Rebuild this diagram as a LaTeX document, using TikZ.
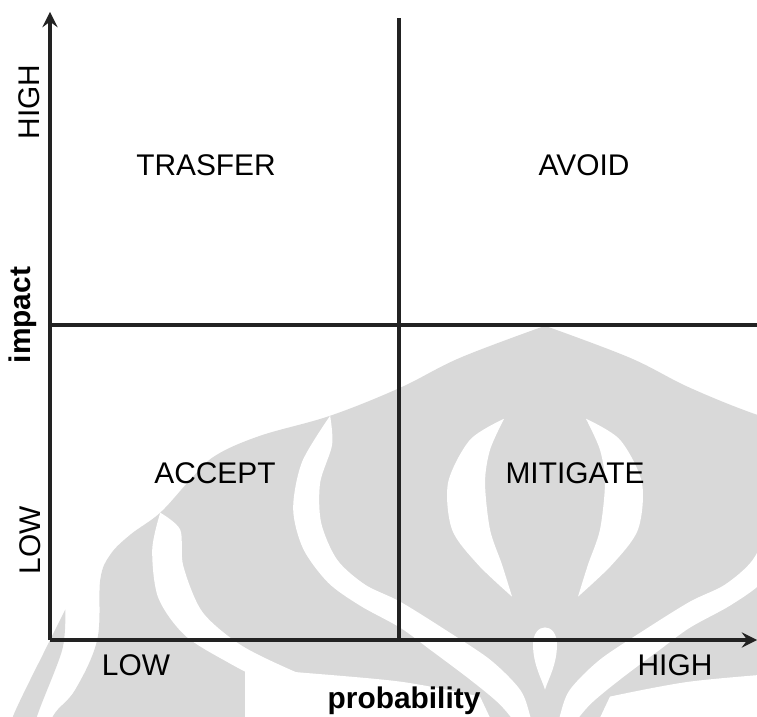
\documentclass[tikz,border=0pt]{standalone}
\usepackage{fontspec}
\setmainfont{Liberation Sans}
\usepackage{tikz}

\definecolor{wmgray}{RGB}{217,217,217}
\definecolor{linegray}{RGB}{34,34,34}

\tikzset{
  quadtext/.style={font=\fontsize{8.5}{10}\selectfont, text=black, inner sep=0pt},
  axistext/.style={quadtext, font=\fontsize{8.5}{10}\selectfont\bfseries},
  gridline/.style={line width=0.9pt, linegray},
}

\begin{document}
\begin{tikzpicture}
	\useasboundingbox (-0.5,-0.76) rectangle (7.07,6.4);
	% emblem behind the grid, left half mirrored to the right
	\begin{scope}
		\clip (-0.5,-0.76) rectangle (7.07,6.4);
		\begin{scope}[shift={(4.95cm,6.4cm)},x=0.01cm,y=-0.01cm]
			\foreach \s in {1,-1}{
				\begin{scope}[xscale=\s]
					\fill[wmgray] plot[smooth,tension=0.6] coordinates {(0,326) (-85,358) (-145,388) (-215,416) (-285,436) (-330,456) (-355,480) (-385,513) (-415,535) (-435,555) (-445,580) (-448,640) (-470,690) (-492,716) (-505,750)} -- (0,750) -- cycle;
					\fill[wmgray] plot[smooth] coordinates {(-480,610) (-500,650) (-532,716) (-540,750)} -- plot[smooth] coordinates {(-515,750) (-508,716) (-483,650) (-480,610)} -- cycle;
				\end{scope}
			}
			\foreach \s in {1,-1}{
				\begin{scope}[xscale=\s]
					% outer crescent
					\fill[white] plot[smooth] coordinates {(-385,513) (-393,550) (-387,598) (-360,636) (-315,664) (-265,690) (-215,716) (-175,750)} -- plot[smooth] coordinates {(-125,750) (-155,716) (-205,690) (-255,670) (-305,645) (-343,612) (-362,566) (-365,530) (-385,513)} -- cycle;
					% inner crescent
					\fill[white] plot[smooth] coordinates {(-215,416) (-243,462) (-252,509) (-242,549) (-217,583) (-185,606) (-145,628) (-115,650) (-75,680) (-45,705) (-25,730) (-15,750)} -- plot[smooth] coordinates {(-8,750) (-15,716) (-25,690) (-55,660) (-100,630) (-145,602) (-180,585) (-208,560) (-224,523) (-225,483) (-213,445) (-215,416)} -- cycle;
					% lower gap
					\fill[white] plot[smooth] coordinates {(-300,668) (-255,672) (-145,682) (-65,697)} -- (-40,750) -- (-300,750) -- cycle;
					% lens
					\fill[white] plot[smooth] coordinates {(-41,419) (-75,440) (-97,483) (-93,530) (-67,565) (-33,597)} -- plot[smooth] coordinates {(-33,597) (-43,565) (-55,530) (-60,483) (-55,450) (-41,419)} -- cycle;
				\end{scope}
			}
			% drop
			\fill[white] (-12,645) .. controls (-12,622) and (12,622) .. (12,645) .. controls (12,665) and (3,680) .. (0,690) .. controls (-3,680) and (-12,665) .. (-12,645) -- cycle;
		\end{scope}
	\end{scope}

	\coordinate (O) at (0,0);
	\coordinate (Ytop) at (0,6.28);
	\coordinate (Xend) at (7.07,0);
	\coordinate (Mbot) at (3.49,0);
	\coordinate (Mtop) at (3.49,6.22);
	\coordinate (Hl) at (0,3.15);
	\coordinate (Hr) at (7.07,3.15);
	\draw[->,>=stealth,gridline] (O)--(Ytop);
	\draw[->,>=stealth,gridline] (O)--(Xend);
	\draw[gridline] (Mbot)--(Mtop);
	\draw[gridline] (Hl)--(Hr);

	\node[quadtext] (trasfer) at (1.56,4.75) {TRASFER};
	\node[quadtext] (avoid) at (5.34,4.75) {AVOID};
	\node[quadtext] (accept) at (1.65,1.67) {ACCEPT};
	\node[quadtext] (mitigate) at (5.25,1.67) {MITIGATE};

	\node[quadtext] (plow) at (0.86,-0.25) {LOW};
	\node[quadtext] (phigh) at (6.25,-0.25) {HIGH};
	\node[axistext,anchor=base] (prob) at (3.54,-0.68) {probability};
	\node[quadtext,rotate=90] (ihigh) at (-0.21,5.38) {HIGH};
	\node[quadtext,rotate=90] (ilow) at (-0.20,1.00) {LOW};
	\node[axistext,rotate=90] (imp) at (-0.275,3.25) {impact};
\end{tikzpicture}
\end{document}
